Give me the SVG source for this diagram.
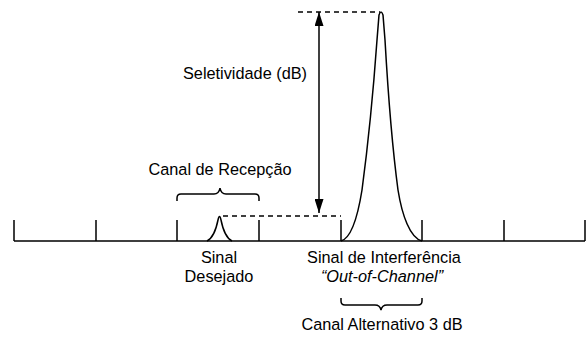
<svg xmlns="http://www.w3.org/2000/svg" width="588" height="338" viewBox="0 0 588 338">
<defs>
<style>
.ln{stroke:#000;stroke-width:1.5;fill:none}
.ds{stroke:#000;stroke-width:1.5;fill:none;stroke-dasharray:5,4}
.t{font-family:"Liberation Sans",Arial,sans-serif;font-size:16.3px;fill:#000;text-anchor:middle}
.i{font-style:italic}
</style>
<marker id="ah2" viewBox="0 0 14 9" refX="14" refY="4.5" markerWidth="14" markerHeight="9" markerUnits="userSpaceOnUse" orient="auto-start-reverse">
<path d="M0,0 L14,4.5 L0,9 z" fill="#000"/>
</marker>
</defs>
<rect width="588" height="338" fill="#fff"/>
<g id="axis">
<path class="ln" d="M14,241 H585 M14,220 V241 M96,220 V241 M177,220 V241 M259,220 V241 M341,220 V241 M422,220 V241 M504,220 V241 M585,220 V241"/>
</g>
<g id="sinal-desejado">
<path class="ln" d="M207,241 C213,238 216,230 218,220 Q219.5,213 221,220 C223,230 226,238 232,241"/>
<text class="t" x="219" y="263">Sinal</text>
<text class="t" x="219" y="282">Desejado</text>
</g>
<g id="sinal-interferencia">
<path class="ln" d="M341,241 C352,238 358,215 362,190 C366,160 372,110 377,40 L379,15 Q381,9 383,15 L385,40 C389,110 394,160 398,190 C402,215 410,238 422,241"/>
<text class="t" x="384" y="263">Sinal de Interferência</text>
<text class="t i" x="382" y="282">“Out-of-Channel”</text>
</g>
<g id="canal-recepcao">
<path class="ln" d="M177,201 V198 Q177,194 181,194 H214 Q219,194 220,188 Q221,194 226,194 H255 Q259,194 259,198 V201"/>
<text class="t" x="220" y="175">Canal de Recepção</text>
</g>
<g id="canal-alternativo">
<path class="ln" d="M341,298 V301 Q341,305 345,305 H375 Q380,305 381,310 Q382,305 387,305 H418 Q422,305 422,301 V298"/>
<text class="t" x="382" y="330">Canal Alternativo 3 dB</text>
</g>
<g id="seletividade">
<text class="t" x="245" y="79">Seletividade (dB)</text>
</g>
<g id="connectors">
<path class="ds" d="M298,12 H380"/>
<path class="ds" d="M223,216 H341"/>
<path class="ln" d="M319,12 V213" marker-start="url(#ah2)" marker-end="url(#ah2)"/>
</g>
</svg>
